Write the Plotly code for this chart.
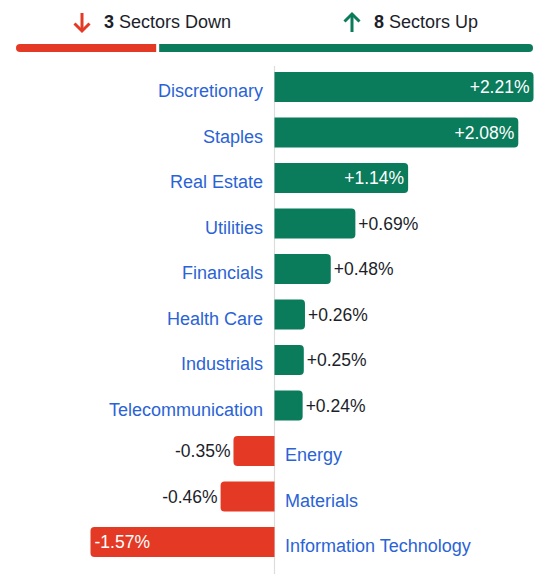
import plotly.graph_objects as go

sectors = ["Discretionary", "Staples", "Real Estate", "Utilities", "Financials",
           "Health Care", "Industrials", "Telecommunication", "Energy", "Materials",
           "Information Technology"]
changes = [2.21, 2.08, 1.14, 0.69, 0.48, 0.26, 0.25, 0.24, -0.35, -0.46, -1.57]

GREEN = "#0A7B5B"
RED = "#E43A25"
BLUE = "#2A63D6"
DARK = "#1C1E2A"
FONT = "Liberation Sans"

W, H = 552, 574
MT = 64

n = len(sectors)
ypos = list(range(n))
n_up = sum(1 for v in changes if v > 0)
n_down = sum(1 for v in changes if v < 0)

def px(x):
    return x / W

def py(y):
    return (H - y) / (H - MT)

labels = [f"{v:+.2f}%" for v in changes]
tpos = ["inside" if abs(v) >= 1 else "outside" for v in changes]
colors = [GREEN if v >= 0 else RED for v in changes]

fig = go.Figure(go.Bar(
    x=changes, y=ypos, orientation="h", width=0.66,
    marker=dict(color=colors, line=dict(width=0)),
    text=labels, textposition=tpos, insidetextanchor="end",
    insidetextfont=dict(color="white", size=17.5, family=FONT),
    outsidetextfont=dict(color=DARK, size=17.5, family=FONT),
    cliponaxis=False, hoverinfo="skip",
))

annotations = []
for s, v, y in zip(sectors, changes, ypos):
    annotations.append(dict(
        x=0, y=y, xref="x", yref="y", text=s, showarrow=False,
        xanchor="right" if v >= 0 else "left",
        xshift=-10 if v >= 0 else 8, yshift=-4,
        font=dict(color=BLUE, size=18, family=FONT),
    ))

# header texts
annotations.append(dict(x=px(102), y=py(22), xref="paper", yref="paper",
                        text=f"<b>{n_down}</b> Sectors Down", showarrow=False,
                        xanchor="left", yanchor="middle",
                        font=dict(color=DARK, size=18, family=FONT)))
annotations.append(dict(x=px(372), y=py(22), xref="paper", yref="paper",
                        text=f"<b>{n_up}</b> Sectors Up", showarrow=False,
                        xanchor="left", yanchor="middle",
                        font=dict(color=DARK, size=18, family=FONT)))

shapes = []
# arrows
def seg(pts, color):
    d = "M " + " L ".join(f"{px(a):.5f},{py(b):.5f}" for a, b in pts)
    return dict(type="path", path=d, xref="paper", yref="paper",
                line=dict(color=color, width=3), fillcolor="rgba(0,0,0,0)")

shapes.append(seg([(82, 13), (82, 31)], RED))
shapes.append(seg([(74.5, 23.5), (82, 31), (89.5, 23.5)], RED))
shapes.append(seg([(352, 32), (352, 14)], GREEN))
shapes.append(seg([(344.5, 21.5), (352, 14), (359.5, 21.5)], GREEN))

# progress bar
L, R, GAP = 16, 533, 3
usable = R - L - GAP
red_end = L + usable * n_down / (n_down + n_up)
green_start = red_end + GAP
top, bot, r = 44, 52, 4

def rr_left(x0, x1):
    return (f"M {px(x1):.5f},{py(top):.5f} L {px(x0+r):.5f},{py(top):.5f} "
            f"Q {px(x0):.5f},{py(top):.5f} {px(x0):.5f},{py(top+r):.5f} "
            f"Q {px(x0):.5f},{py(bot):.5f} {px(x0+r):.5f},{py(bot):.5f} "
            f"L {px(x1):.5f},{py(bot):.5f} Z")

def rr_right(x0, x1):
    return (f"M {px(x0):.5f},{py(top):.5f} L {px(x1-r):.5f},{py(top):.5f} "
            f"Q {px(x1):.5f},{py(top):.5f} {px(x1):.5f},{py(top+r):.5f} "
            f"Q {px(x1):.5f},{py(bot):.5f} {px(x1-r):.5f},{py(bot):.5f} "
            f"L {px(x0):.5f},{py(bot):.5f} Z")

shapes.append(dict(type="path", path=rr_left(L, red_end), xref="paper", yref="paper",
                   fillcolor=RED, line=dict(width=0)))
shapes.append(dict(type="path", path=rr_right(green_start, R), xref="paper", yref="paper",
                   fillcolor=GREEN, line=dict(width=0)))

# zero line
shapes.append(dict(type="line", x0=0, x1=0, xref="x", y0=py(66), y1=0, yref="paper",
                   line=dict(color="#DCDCDC", width=1.2), layer="below"))

scale = 117.2
fig.update_layout(
    width=W, height=H,
    margin=dict(l=0, r=0, t=MT, b=0, pad=0),
    paper_bgcolor="white", plot_bgcolor="white",
    showlegend=False,
    barcornerradius=4,
    xaxis=dict(range=[-274.5 / scale, (W - 274.5) / scale], visible=False, fixedrange=True),
    yaxis=dict(range=[(H - 87) / 45.5, (MT - 87) / 45.5],
               visible=False, fixedrange=True),
    annotations=annotations,
    shapes=shapes,
    font=dict(family=FONT),
)

fig.write_html("out.html", config={"displayModeBar": False})
